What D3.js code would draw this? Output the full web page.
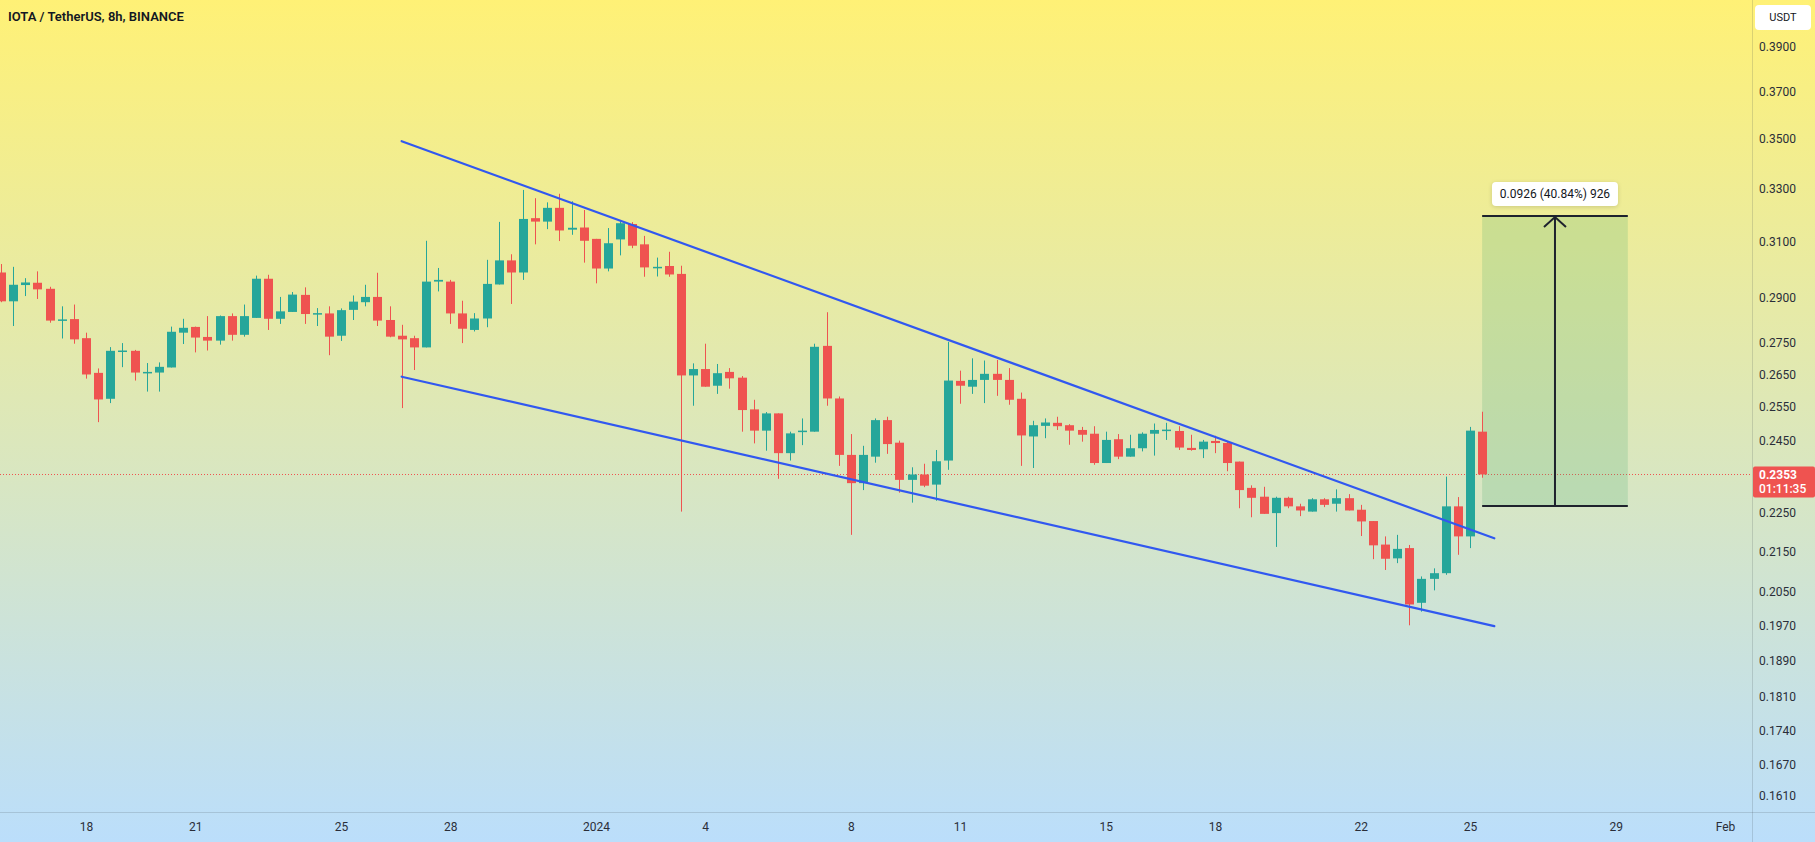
<!DOCTYPE html>
<html><head><meta charset="utf-8">
<script src="https://cdn.jsdelivr.net/npm/d3@7/dist/d3.min.js"></script>
<style>html,body{margin:0;padding:0;overflow:hidden;background:#fff;} svg{display:block}</style>
</head><body><svg id="chart" width="1815" height="842"></svg>
<script>
// ---------------- DATA ----------------
const title = "IOTA / TetherUS, 8h, BINANCE";
const currency = "USDT";
const firstBar = "2023-12-15T16:00:00Z";
const barHours = 8;
const open  = [0.2987,0.2887,0.2943,0.2951,0.2930,0.2821,0.2827,0.2764,0.2653,0.2573,0.2720,0.2723,0.2652,0.2654,0.2670,0.2782,0.2801,0.2768,0.2756,0.2837,
  0.2775,0.2831,0.2965,0.2828,0.2851,0.2909,0.2843,0.2846,0.2772,0.2858,0.2884,0.2902,0.2824,0.2772,0.2764,0.2734,0.2955,0.2955,0.2846,0.2791,
  0.2829,0.2945,0.3030,0.2987,0.3185,0.3172,0.3224,0.3142,0.3150,0.3108,0.3001,0.3106,0.3163,0.3088,0.3003,0.3010,0.2982,0.2645,0.2665,0.2613,
  0.2656,0.2638,0.2541,0.2478,0.2529,0.2413,0.2474,0.2475,0.2739,0.2574,0.2408,0.2329,0.2403,0.2509,0.2443,0.2338,0.2353,0.2325,0.2392,0.2628,
  0.2610,0.2631,0.2650,0.2631,0.2573,0.2461,0.2492,0.2501,0.2494,0.2480,0.2469,0.2385,0.2453,0.2403,0.2427,0.2469,0.2477,0.2477,0.2428,0.2424,
  0.2448,0.2442,0.2389,0.2316,0.2292,0.2248,0.2289,0.2266,0.2252,0.2285,0.2273,0.2288,0.2257,0.2227,0.2166,0.2131,0.2157,0.2022,0.2080,0.2094,
  0.2266,0.2187,0.2475];
const high  = [0.3017,0.3007,0.2967,0.2991,0.2937,0.2870,0.2876,0.2782,0.2667,0.2735,0.2748,0.2726,0.2684,0.2686,0.2802,0.2828,0.2802,0.2837,0.2839,0.2846,
  0.2876,0.2976,0.2979,0.2902,0.2919,0.2935,0.2864,0.2870,0.2863,0.2907,0.2944,0.2986,0.2870,0.2808,0.2772,0.3101,0.3003,0.2961,0.2889,0.2847,
  0.3032,0.3171,0.3052,0.3293,0.3261,0.3245,0.3278,0.3249,0.3216,0.3108,0.3148,0.3173,0.3170,0.3119,0.3040,0.3061,0.3011,0.2683,0.2746,0.2681,
  0.2668,0.2643,0.2570,0.2533,0.2529,0.2475,0.2514,0.2746,0.2850,0.2580,0.2468,0.2434,0.2514,0.2519,0.2449,0.2373,0.2383,0.2422,0.2752,0.2660,
  0.2699,0.2692,0.2694,0.2668,0.2592,0.2507,0.2514,0.2519,0.2497,0.2489,0.2491,0.2475,0.2468,0.2466,0.2473,0.2499,0.2501,0.2491,0.2466,0.2451,
  0.2463,0.2446,0.2389,0.2323,0.2319,0.2292,0.2292,0.2273,0.2288,0.2288,0.2312,0.2299,0.2270,0.2227,0.2187,0.2191,0.2165,0.2086,0.2106,0.2347,
  0.2291,0.2489,0.2534];
const low   = [0.2884,0.2804,0.2905,0.2895,0.2815,0.2763,0.2746,0.2635,0.2503,0.2560,0.2671,0.2629,0.2595,0.2595,0.2670,0.2745,0.2718,0.2724,0.2743,0.2756,
  0.2769,0.2831,0.2791,0.2811,0.2851,0.2811,0.2804,0.2709,0.2755,0.2824,0.2870,0.2804,0.2767,0.2545,0.2662,0.2734,0.2921,0.2811,0.2748,0.2786,
  0.2800,0.2945,0.2878,0.2961,0.3088,0.3144,0.3100,0.3123,0.3022,0.2949,0.2991,0.3048,0.3074,0.2972,0.2973,0.2972,0.2252,0.2552,0.2610,0.2588,
  0.2604,0.2475,0.2441,0.2420,0.2341,0.2392,0.2436,0.2475,0.2552,0.2377,0.2191,0.2310,0.2386,0.2411,0.2303,0.2276,0.2318,0.2281,0.2366,0.2558,
  0.2588,0.2560,0.2582,0.2555,0.2377,0.2371,0.2456,0.2480,0.2437,0.2446,0.2380,0.2385,0.2396,0.2403,0.2418,0.2406,0.2451,0.2422,0.2420,0.2399,
  0.2413,0.2362,0.2261,0.2237,0.2246,0.2160,0.2261,0.2240,0.2252,0.2264,0.2252,0.2255,0.2188,0.2129,0.2102,0.2119,0.1969,0.2001,0.2052,0.2090,
  0.2140,0.2157,0.2344];
const close = [0.2887,0.2944,0.2952,0.2928,0.2822,0.2826,0.2760,0.2648,0.2571,0.2723,0.2724,0.2654,0.2656,0.2672,0.2785,0.2798,0.2766,0.2756,0.2837,0.2775,
  0.2837,0.2965,0.2828,0.2853,0.2910,0.2844,0.2847,0.2769,0.2857,0.2886,0.2902,0.2822,0.2769,0.2760,0.2734,0.2955,0.2961,0.2846,0.2795,0.2829,
  0.2947,0.3030,0.2987,0.3182,0.3172,0.3224,0.3139,0.3149,0.3101,0.3001,0.3092,0.3166,0.3083,0.3005,0.3007,0.2980,0.2645,0.2665,0.2610,0.2652,
  0.2636,0.2539,0.2478,0.2529,0.2413,0.2470,0.2478,0.2736,0.2574,0.2408,0.2329,0.2408,0.2509,0.2439,0.2338,0.2353,0.2322,0.2390,0.2629,0.2613,
  0.2631,0.2650,0.2631,0.2570,0.2464,0.2494,0.2502,0.2491,0.2478,0.2466,0.2385,0.2451,0.2403,0.2427,0.2469,0.2480,0.2481,0.2429,0.2422,0.2446,
  0.2442,0.2385,0.2310,0.2289,0.2246,0.2289,0.2266,0.2255,0.2285,0.2270,0.2288,0.2255,0.2226,0.2164,0.2130,0.2155,0.2018,0.2080,0.2094,0.2266,
  0.2187,0.2478,0.2353];

const priceTicks = [0.161,0.167,0.174,0.181,0.189,0.197,0.205,0.215,0.225,0.245,0.255,0.265,0.275,0.29,0.31,0.33,0.35,0.37,0.39];
const timeTickDates  = ["2023-12-18","2023-12-21","2023-12-25","2023-12-28","2024-01-01","2024-01-04","2024-01-08","2024-01-11","2024-01-15","2024-01-18","2024-01-22","2024-01-25","2024-01-29","2024-02-01"];
const timeTickLabels = ["18","21","25","28","2024","4","8","11","15","18","22","25","29","Feb"];

const upperTrend = [["2023-12-26T16:00:00Z",0.3488],["2024-01-25T16:00:00Z",0.2182]];
const lowerTrend = [["2023-12-26T16:00:00Z",0.2641],["2024-01-25T16:00:00Z",0.1967]];
const rangeTimes  = ["2024-01-25T08:00:00Z","2024-01-29T08:00:00Z"];
const rangePrices = [0.2267,0.3193];
const rangeLabel = "0.0926 (40.84%) 926";
const lastPrice = 0.2353;
const countdown = "01:11:35";

// ---------------- LAYOUT ----------------
const W = 1815, H = 842, plotR = 1752, plotB = 812;
const UP = "#26a69a", DOWN = "#ef5350";
const FONT = "Roboto, 'Liberation Sans', sans-serif";
const svg = d3.select("#chart");
const defs = svg.append("defs");
const bg = defs.append("linearGradient").attr("id","bg").attr("x1",0).attr("y1",0).attr("x2",0).attr("y2",1);
bg.append("stop").attr("offset","0%").attr("stop-color","#fff176");
bg.append("stop").attr("offset","100%").attr("stop-color","#bbdefb");
defs.append("clipPath").attr("id","plotclip").append("rect").attr("x",0).attr("y",0).attr("width",plotR).attr("height",plotB);
svg.append("rect").attr("width",W).attr("height",H).attr("fill","url(#bg)");

const x = d3.scaleUtc().domain([new Date("2023-12-18T00:00:00Z"), new Date("2024-01-25T00:00:00Z")]).range([86,1470]);
const y = d3.scaleLog().domain([0.161,0.39]).range([795.7,46.7]);

const t0 = new Date(firstBar);
const bars = open.map((o,i)=>({t:d3.utcHour.offset(t0,i*barHours),o,h:high[i],l:low[i],c:close[i]}));

const plot = svg.append("g").attr("clip-path","url(#plotclip)");

// last price dotted line
plot.append("line").attr("x1",0).attr("x2",plotR).attr("y1",Math.round(y(lastPrice))+0.5).attr("y2",Math.round(y(lastPrice))+0.5)
  .attr("stroke",DOWN).attr("stroke-width",1).attr("stroke-dasharray","1,2");

// measure range box
const rx0 = x(new Date(rangeTimes[0])), rx1 = x(new Date(rangeTimes[1]));
const ry0 = y(rangePrices[0]), ry1 = y(rangePrices[1]);
plot.append("rect").attr("x",rx0).attr("y",ry1).attr("width",rx1-rx0).attr("height",ry0-ry1).attr("fill","rgba(70,170,110,0.2)");

// candles
const cg = plot.append("g");
bars.forEach(b=>{
  const cx = Math.round(x(b.t));
  const col = b.c >= b.o ? UP : DOWN;
  cg.append("rect").attr("x",cx).attr("width",1).attr("y",y(b.h)).attr("height",Math.max(1,y(b.l)-y(b.h))).attr("fill",col);
  const top = y(Math.max(b.o,b.c)), bot = y(Math.min(b.o,b.c));
  cg.append("rect").attr("x",cx-4).attr("width",9).attr("y",top).attr("height",Math.max(1.5,bot-top)).attr("fill",col);
});

// trendlines
[upperTrend, lowerTrend].forEach(tl=>{
  plot.append("line")
    .attr("x1",x(new Date(tl[0][0]))).attr("y1",y(tl[0][1]))
    .attr("x2",x(new Date(tl[1][0]))).attr("y2",y(tl[1][1]))
    .attr("stroke","#3158f0").attr("stroke-width",2.2).attr("stroke-linecap","round");
});

// measure lines + arrow
const mid = (rx0+rx1)/2;
const dark = "#1e222d";
plot.append("line").attr("x1",rx0).attr("x2",rx1).attr("y1",ry0).attr("y2",ry0).attr("stroke",dark).attr("stroke-width",2);
plot.append("line").attr("x1",rx0).attr("x2",rx1).attr("y1",ry1).attr("y2",ry1).attr("stroke",dark).attr("stroke-width",2);
plot.append("line").attr("x1",mid).attr("x2",mid).attr("y1",ry0).attr("y2",ry1+1).attr("stroke",dark).attr("stroke-width",2);
plot.append("path").attr("d",`M${mid-11},${ry1+11}L${mid},${ry1+1}L${mid+11},${ry1+11}`).attr("fill","none").attr("stroke",dark).attr("stroke-width",2);
const lbl = plot.append("g");
lbl.append("rect").attr("x",mid-63).attr("y",ry1-34).attr("width",126).attr("height",24).attr("rx",4).attr("fill","#ffffff")
  .style("filter","drop-shadow(0 1px 2px rgba(0,0,0,0.15))");
lbl.append("text").attr("x",mid).attr("y",ry1-22).attr("text-anchor","middle").attr("dominant-baseline","central")
  .attr("font-family",FONT).attr("font-size",12).attr("fill","#131722").text(rangeLabel);

// separators
svg.append("line").attr("x1",plotR+0.5).attr("x2",plotR+0.5).attr("y1",0).attr("y2",H).attr("stroke","rgba(60,70,80,0.18)");
svg.append("line").attr("x1",0).attr("x2",W).attr("y1",plotB+0.5).attr("y2",plotB+0.5).attr("stroke","rgba(60,70,80,0.18)");

// price axis
const yAxis = d3.axisRight(y).tickValues(priceTicks).tickSize(0).tickPadding(0).tickFormat(d3.format(".4f"));
const ya = svg.append("g").attr("transform",`translate(${plotR+7},0)`).call(yAxis);
ya.select(".domain").remove();
ya.selectAll("text").attr("font-family",FONT).attr("font-size",12).attr("fill","#2a2e39").attr("dy","0.35em");

// time axis
const tickDates = timeTickDates.map(d=>new Date(d+"T00:00:00Z"));
const xAxis = d3.axisBottom(x).tickValues(tickDates).tickSize(0).tickPadding(0).tickFormat((d,i)=>timeTickLabels[i]);
const xa = svg.append("g").attr("transform",`translate(0,${plotB})`).call(xAxis);
xa.select(".domain").remove();
xa.selectAll("text").attr("font-family",FONT).attr("font-size",12).attr("fill","#2a2e39").attr("y",15).attr("dy","0.35em");

// USDT box
svg.append("rect").attr("x",1755).attr("y",5).attr("width",56).attr("height",25).attr("rx",4).attr("fill","#ffffff");
svg.append("text").attr("x",1783).attr("y",17.5).attr("text-anchor","middle").attr("dominant-baseline","central")
  .attr("font-family",FONT).attr("font-size",11).attr("fill","#131722").text(currency);

// last price label
const ly = y(lastPrice);
svg.append("rect").attr("x",plotR+1).attr("y",ly-8).attr("width",W-plotR-1).attr("height",31).attr("rx",2).attr("fill",DOWN);
svg.append("text").attr("x",plotR+7).attr("y",ly+0.5).attr("dominant-baseline","central").attr("font-family",FONT)
  .attr("font-size",12).attr("font-weight",700).attr("fill","#fff").text(d3.format(".4f")(lastPrice));
svg.append("text").attr("x",plotR+7).attr("y",ly+14.5).attr("dominant-baseline","central").attr("font-family",FONT)
  .attr("font-size",12).attr("font-weight",500).attr("fill","#fff").text(countdown);

// title
svg.append("text").attr("x",8).attr("y",16).attr("dominant-baseline","central").attr("font-family",FONT)
  .attr("font-size",13).attr("font-weight",600).attr("fill","#131722").text(title);
</script></body></html>
